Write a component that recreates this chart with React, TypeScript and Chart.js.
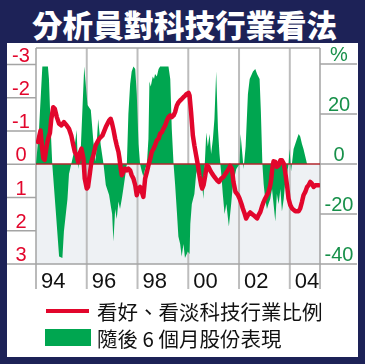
import React, { useEffect, useRef } from 'react';
import { Chart, registerables } from 'chart.js';

Chart.register(...registerables);

const chartTitle = '分析員對科技行業看法';
const legendLabels = ['看好、看淡科技行業比例', '隨後 6 個月股份表現'];

// Green area: stock performance over following 6 months (%), right axis
const returnYears = [
  1994.0, 1994.03, 1994.12, 1994.25, 1994.47, 1994.51, 1994.58, 1994.64, 1994.78, 1994.91,
  1995.04, 1995.1, 1995.24, 1995.3, 1995.39, 1995.5, 1995.6, 1995.66, 1995.76, 1995.9,
  1996.03, 1996.16, 1996.26, 1996.35, 1996.45, 1996.55, 1996.66, 1996.75, 1996.88, 1996.95,
  1997.0, 1997.05, 1997.12, 1997.18, 1997.25, 1997.31, 1997.38, 1997.44, 1997.51, 1997.58,
  1997.64, 1997.71, 1997.77, 1997.84, 1997.91, 1997.97, 1998.04, 1998.1, 1998.17, 1998.23,
  1998.3, 1998.37, 1998.43, 1998.47, 1998.52, 1998.6, 1998.65, 1998.69, 1998.76, 1998.83,
  1998.89, 1999.22, 1999.29, 1999.35, 1999.42, 1999.48, 1999.55, 1999.61, 1999.68, 1999.74,
  1999.81, 1999.87, 1999.94, 1999.98, 2000.05, 2000.08, 2000.14, 2000.24, 2000.31, 2000.42,
  2000.51, 2000.6, 2000.65, 2000.71, 2000.77, 2000.84, 2000.9, 2000.97, 2001.03, 2001.1,
  2001.17, 2001.23, 2001.3, 2001.36, 2001.43, 2001.5, 2001.6, 2001.69, 2001.76, 2001.89,
  2002.02, 2002.06, 2002.13, 2002.18, 2002.26, 2002.35, 2002.42, 2002.55, 2002.64, 2002.71,
  2002.81, 2002.86, 2002.92, 2002.97, 2003.03, 2003.1, 2003.16, 2003.23, 2003.3, 2003.36,
  2003.43, 2003.49, 2003.56, 2003.63, 2003.69, 2003.76, 2003.82, 2003.89, 2003.95, 2003.99,
  2004.05, 2004.15, 2004.28, 2004.35, 2004.41, 2004.48, 2004.54, 2004.61, 2004.68, 2005.19,
];
const returnValues = [
  0, 0, 14, 39, 39, 34, 14, 0, -19, -37,
  -37.6, -27, -14, -4, 0, 5, 13.6, -2, 5, 39,
  23.6, 21.6, 9, 1, 18, 7.6, 0, -8.4, -12.4, -17,
  -20, -31, -18, -22, -15, -18, -14, -10, -5, 0,
  20, 32, 37, 39, 38, 28, 8, 0, -3, -5,
  -2, 0, 10, 33, 31, 35, 34, 36, 35, 38,
  39, 39, 34, 14, 0, -8, -19, -29, -32, -37,
  -32, -37.6, -36, -35, -36, -24, -16, -12, -4, 0,
  -5, -14, 0, 12.6, 7, 12, 4, 10, 18, 37,
  14, 4, -4, -12, -20, -16, -25, -16, -8, -2,
  0, 12, 4, -2, 7, 28, 34, 37, 38, 36,
  34, 21, 0, -8, -14, -18, -16, -14, -10, -16,
  -23, -12, -16, -10, -19, -14, -7, -4, 0, 6,
  -3, 6, 10, 12, 11, 8, 6, 3, 0, 0,
];

// Red line: bullish / bearish ratio on tech sector, left (inverted) axis
const ratioYears = [
  1994.08, 1994.13, 1994.18, 1994.24, 1994.29, 1994.34, 1994.42, 1994.47, 1994.55, 1994.6,
  1994.68, 1994.74, 1994.82, 1994.91, 1995.0, 1995.1, 1995.21, 1995.3, 1995.39, 1995.47,
  1995.53, 1995.6, 1995.66, 1995.74, 1995.79, 1995.87, 1995.92, 1996.0, 1996.05, 1996.13,
  1996.18, 1996.26, 1996.35, 1996.49, 1996.62, 1996.75, 1996.88, 1996.94, 1996.99, 1997.05,
  1997.12, 1997.18, 1997.25, 1997.29, 1997.34, 1997.38, 1997.44, 1997.51, 1997.58, 1997.64,
  1997.71, 1997.77, 1997.84, 1997.91, 1997.97, 1998.04, 1998.1, 1998.17, 1998.23, 1998.3,
  1998.37, 1998.43, 1998.5, 1998.56, 1998.63, 1998.69, 1998.76, 1998.83, 1998.89, 1998.96,
  1999.02, 1999.09, 1999.16, 1999.22, 1999.29, 1999.35, 1999.42, 1999.48, 1999.55, 1999.62,
  1999.68, 1999.75, 1999.81, 1999.88, 1999.94, 2000.01, 2000.05, 2000.11, 2000.18, 2000.24,
  2000.31, 2000.38, 2000.44, 2000.51, 2000.55, 2000.6, 2000.67, 2000.73, 2000.8, 2000.86,
  2000.94, 2001.03, 2001.13, 2001.21, 2001.3, 2001.39, 2001.47, 2001.56, 2001.65, 2001.72,
  2001.78, 2001.86, 2001.96, 2002.02, 2002.09, 2002.15, 2002.22, 2002.28, 2002.35, 2002.44,
  2002.57, 2002.71, 2002.77, 2002.84, 2002.9, 2002.97, 2003.03, 2003.1, 2003.16, 2003.23,
  2003.27, 2003.31, 2003.36, 2003.43, 2003.49, 2003.56, 2003.63, 2003.69, 2003.76, 2003.82,
  2003.89, 2003.95, 2004.02, 2004.09, 2004.22, 2004.35, 2004.41, 2004.48, 2004.54, 2004.61,
  2004.68, 2004.74, 2004.81, 2004.87, 2004.94, 2005.01, 2005.14,
];
const ratioValues = [
  -0.67, -0.85, -1.02, -0.5, -0.18, -0.13, -0.55, -0.75, -0.95, -1.35,
  -1.72, -1.67, -1.42, -1.22, -1.17, -1.27, -1.17, -1.07, -0.87, -0.57,
  -0.37, -0.27, -0.07, -0.37, -0.47, -0.17, 0.43, 0.73, 0.68, 0.23,
  -0.07, -0.27, -0.57, -0.77, -0.87, -1.12, -1.32, -1.37, -1.25, -1.05,
  -0.77, -0.57, -0.37, -0.17, 0.13, 0.33, 0.23, 0.13, 0.18, 0.13,
  0.18, 0.33, 0.43, 0.63, 0.93, 0.73, 0.68, 0.83, 0.98, 0.43,
  0.23, 0.03, -0.17, -0.37, -0.47, -0.57, -0.72, -0.77, -0.92, -0.97,
  -1.07, -1.17, -1.32, -1.42, -1.47, -1.42, -1.47, -1.57, -1.77, -1.87,
  -1.92, -1.97, -2.02, -2.07, -2.12, -2.15, -2.07, -1.57, -0.87, -0.57,
  -0.27, 0.03, 0.33, 0.63, 0.73, 0.63, 0.33, 0.03, 0.08, 0.18,
  0.28, 0.38, 0.48, 0.53, 0.43, 0.38, 0.28, 0.18, 0.05, 0.13,
  0.53, 0.83, 0.93, 1.03, 1.18, 1.33, 1.48, 1.63, 1.53, 1.45,
  1.53, 1.63, 1.53, 1.43, 1.28, 1.13, 1.03, 0.93, 0.83, 0.63,
  0.43, 0.13, -0.09, -0.07, 0.08, 0.03, -0.12, -0.12, -0.02, 0.23,
  0.63, 1.03, 1.23, 1.33, 1.41, 1.41, 1.33, 1.13, 0.93, 0.83,
  0.68, 0.63, 0.53, 0.58, 0.68, 0.63, 0.63,
];

const yearTicks = [1994, 1996, 1998, 2000, 2002, 2004];
const yearTickLabels = ['94', '96', '98', '00', '02', '04'];
const ratioTicks = [-3, -2, -1, 0, 1, 2, 3];
const ratioTickLabels = ['-3', '-2', '-1', '0', '1', '2', '3'];
const returnTicks = [40, 20, 0, -20, -40];
const returnTickLabels = ['%', '20', '0', '-20', '-40'];

const NAVY = '#1d2257';
const RED = '#e2062c';
const GREEN = '#00a650';
const GREEN_TEXT = '#17904a';
const GRID = '#bdbdbd';
const FRAME = '#a4a4a4';

const PANEL_L = 7;
const PANEL_R = 357;

const decorPlugin = {
  id: 'decor',
  beforeDatasetsDraw(chart: any) {
    const { ctx, chartArea: a, scales } = chart;
    const xs = scales.x;
    const yl = scales.yL;
    const yr = scales.yR;
    const z = yr.getPixelForValue(0);
    const axisBottom = a.bottom + 25;
    ctx.save();
    ctx.fillStyle = '#eef1f4';
    ctx.fillRect(a.left, z, a.right - a.left, a.bottom - z);

    ctx.strokeStyle = GRID;
    ctx.lineWidth = 2;
    yearTicks.forEach((t) => {
      const px = xs.getPixelForValue(t);
      if (t === yearTicks[0]) return;
      ctx.beginPath();
      ctx.moveTo(px, a.top);
      ctx.lineTo(px, axisBottom);
      ctx.stroke();
    });

    ctx.strokeStyle = FRAME;
    ctx.lineWidth = 1.5;
    ctx.beginPath();
    ctx.moveTo(a.left, a.top);
    ctx.lineTo(a.right, a.top);
    ctx.moveTo(a.left, a.top);
    ctx.lineTo(a.left, axisBottom);
    ctx.moveTo(a.right, a.top);
    ctx.lineTo(a.right, axisBottom);
    ctx.moveTo(PANEL_L, a.bottom);
    ctx.lineTo(PANEL_R, a.bottom);
    ratioTicks.forEach((t) => {
      const py = yl.getPixelForValue(t);
      ctx.moveTo(PANEL_L, py);
      ctx.lineTo(a.left, py);
    });
    returnTicks.forEach((t) => {
      const py = yr.getPixelForValue(t);
      ctx.moveTo(a.right, py);
      ctx.lineTo(PANEL_R, py);
    });
    ctx.stroke();

    ctx.textAlign = 'center';
    ctx.textBaseline = 'alphabetic';
    ctx.fillStyle = RED;
    ctx.font = '20px "Liberation Sans", Arial, sans-serif';
    ratioTicks.forEach((t, i) => {
      const py = yl.getPixelForValue(t);
      ctx.fillText(ratioTickLabels[i], 21, py - 3);
    });
    ctx.fillStyle = GREEN_TEXT;
    ctx.font = '20px "Liberation Sans", Arial, sans-serif';
    returnTicks.forEach((t, i) => {
      const py = yr.getPixelForValue(t);
      ctx.fillText(returnTickLabels[i], 339, py - 3);
    });
    ctx.textAlign = 'left';
    ctx.fillStyle = '#111111';
    ctx.font = '22px "Liberation Sans", Arial, sans-serif';
    yearTicks.forEach((t, i) => {
      const px = xs.getPixelForValue(t);
      ctx.fillText(yearTickLabels[i], px + 5, a.bottom + 24);
    });
    ctx.restore();
  },
  afterDatasetDraw(chart: any, args: any) {
    if (args.index !== 1) return;
    const { ctx, chartArea: a, scales } = chart;
    const z = scales.yR.getPixelForValue(0);
    ctx.save();
    ctx.strokeStyle = '#b1262c';
    ctx.lineWidth = 1.6;
    ctx.beginPath();
    ctx.moveTo(a.left, z);
    ctx.lineTo(a.right, z);
    ctx.stroke();
    ctx.restore();
  },
};

function ChartCanvas() {
  const ref = useRef<HTMLCanvasElement | null>(null);
  useEffect(() => {
    if (!ref.current) return;
    const chart = new Chart(ref.current, {
      type: 'line',
      data: {
        datasets: [
          {
            label: legendLabels[0],
            data: ratioYears.map((x, i) => ({ x, y: ratioValues[i] })),
            yAxisID: 'yL',
            borderColor: RED,
            borderWidth: 4.5,
            pointRadius: 0,
            tension: 0,
            fill: false,
            borderJoinStyle: 'round',
            borderCapStyle: 'round',
          },
          {
            label: legendLabels[1],
            data: returnYears.map((x, i) => ({ x, y: returnValues[i] })),
            yAxisID: 'yR',
            borderColor: 'rgba(0,0,0,0)',
            borderWidth: 0,
            backgroundColor: GREEN,
            fill: 'origin',
            pointRadius: 0,
            tension: 0,
          },
        ],
      } as any,
      options: {
        animation: false,
        responsive: false,
        maintainAspectRatio: false,
        events: [],
        layout: { padding: { left: 36, right: 45, top: 48, bottom: 100 } },
        plugins: {
          legend: { display: false },
          tooltip: { enabled: false },
          title: { display: false },
        },
        scales: {
          x: { type: 'linear', display: false, min: 1994, max: 2005.19 },
          yL: { type: 'linear', display: false, reverse: true, min: -3.5, max: 3 },
          yR: { type: 'linear', display: false, min: -40, max: 46.4 },
        },
      } as any,
      plugins: [decorPlugin],
    });
    return () => chart.destroy();
  }, []);
  return (
    <canvas
      ref={ref}
      width={365}
      height={364}
      style={{ position: 'absolute', left: 0, top: 0, width: 365, height: 364 }}
    />
  );
}

export default function App() {
  const cjk = '"Noto Sans CJK TC", "Noto Sans CJK SC", sans-serif';
  return (
    <div
      style={{
        position: 'fixed',
        left: 0,
        top: 0,
        width: 365,
        height: 364,
        background: NAVY,
        overflow: 'hidden',
      }}
    >
      <div
        style={{
          position: 'absolute',
          left: 0,
          top: 9,
          width: 369,
          height: 30,
          lineHeight: '30px',
          textAlign: 'center',
          color: '#ffffff',
          fontFamily: cjk,
          fontWeight: 900,
          fontSize: 30.5,
          whiteSpace: 'nowrap',
        }}
      >
        {chartTitle}
      </div>
      <div
        style={{
          position: 'absolute',
          left: PANEL_L,
          top: 43,
          width: PANEL_R + 1 - PANEL_L,
          height: 314,
          background: '#ffffff',
        }}
      />
      <ChartCanvas />
      <div style={{ position: 'absolute', left: 46, top: 309, width: 43, height: 4, background: RED }} />
      <div
        style={{
          position: 'absolute',
          left: 97,
          top: 301,
          height: 20,
          lineHeight: '20px',
          fontSize: 20.5,
          fontFamily: cjk,
          color: '#111111',
          whiteSpace: 'nowrap',
        }}
      >
        {legendLabels[0]}
      </div>
      <div style={{ position: 'absolute', left: 45, top: 329, width: 46, height: 17, background: GREEN }} />
      <div
        style={{
          position: 'absolute',
          left: 97,
          top: 328,
          height: 20,
          lineHeight: '20px',
          fontSize: 20.5,
          fontFamily: cjk,
          color: '#111111',
          whiteSpace: 'nowrap',
        }}
      >
        {legendLabels[1]}
      </div>
    </div>
  );
}
